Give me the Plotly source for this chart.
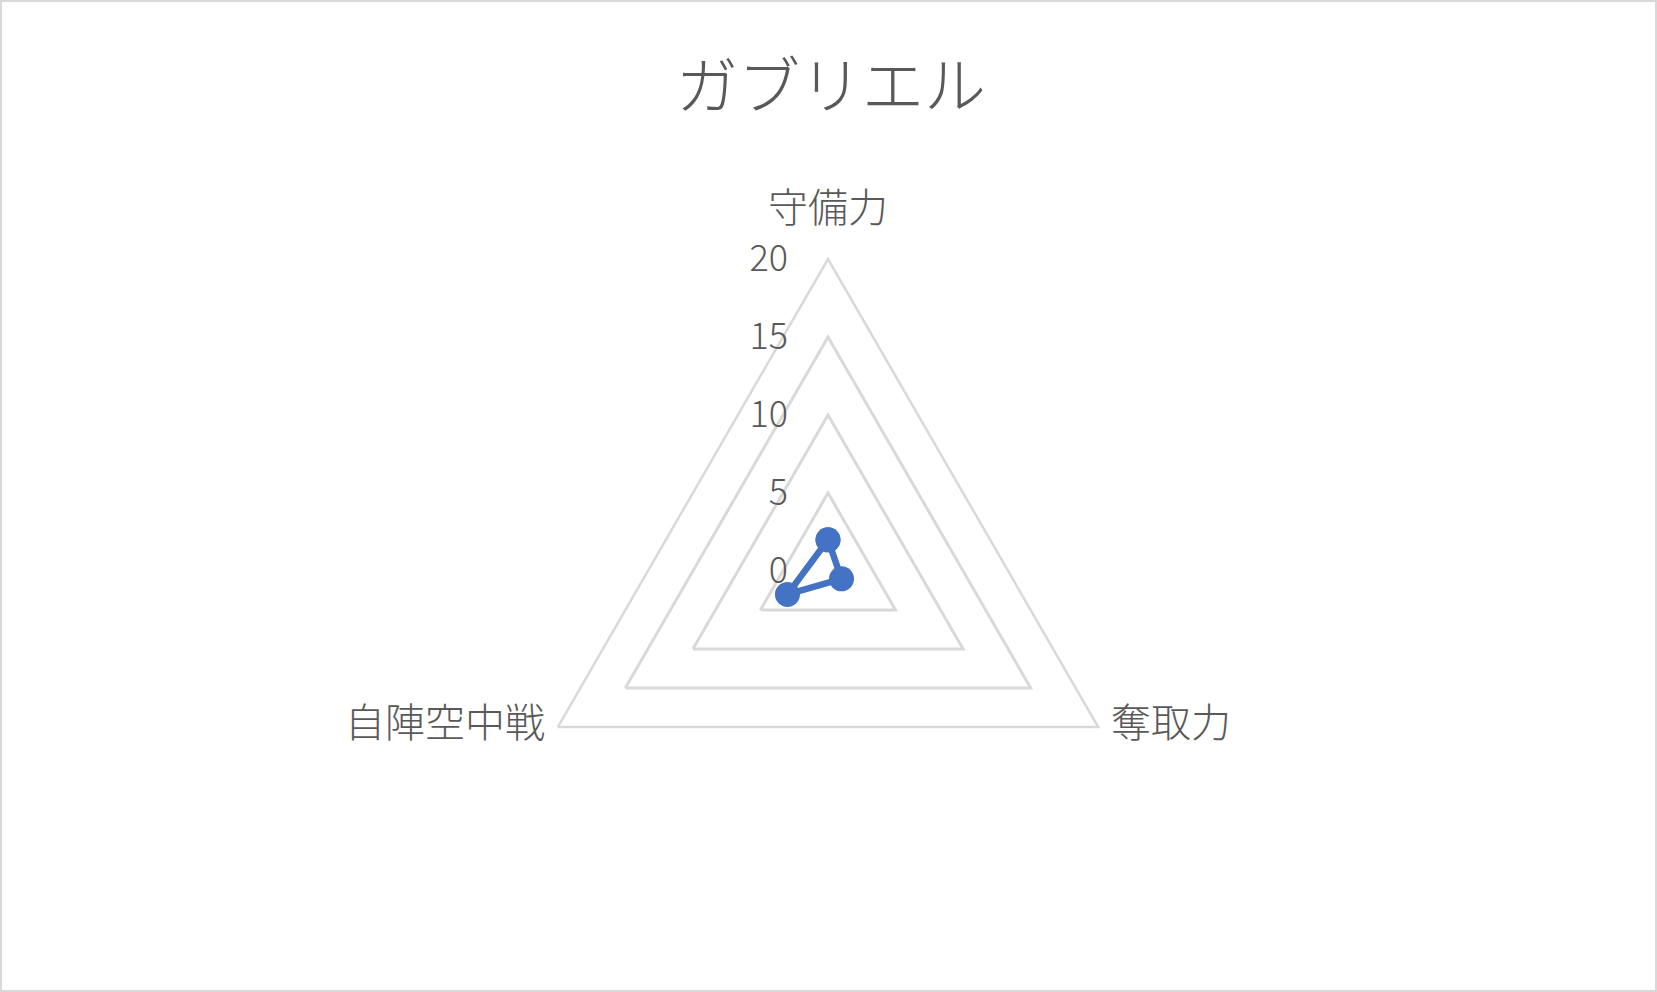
import plotly.graph_objects as go

categories = ["守備力", "奪取力", "自陣空中戦"]
values = [2, 1, 3]
series_name = "ガブリエル"
tick_vals = [0, 5, 10, 15, 20]

W, H = 1657, 992
cx, cy, R = 828, 571, 312

font_family = "Noto Sans CJK JP, Noto Sans, sans-serif"
grey = "#595959"
grid = "#d9d9d9"
blue = "#4472C4"

fig = go.Figure()
fig.add_trace(go.Scatterpolar(
    r=values + [values[0]],
    theta=categories + [categories[0]],
    mode="lines+markers",
    line=dict(color=blue, width=6.5),
    marker=dict(color=blue, size=25),
    name=series_name,
    showlegend=False,
))

# category labels placed at the outer ring (axis maximum)
fig.add_trace(go.Scatterpolar(
    r=[tick_vals[-1]] * len(categories),
    theta=categories,
    mode="markers+text",
    text=categories,
    textposition=["top center", "middle right", "middle left"],
    textfont=dict(family=font_family, size=40, color=grey, weight=300),
    marker=dict(size=[42, 19, 19], opacity=0),
    cliponaxis=False,
    hoverinfo="skip",
    showlegend=False,
))

fig.update_layout(
    width=W, height=H,
    margin=dict(l=0, r=0, t=0, b=0),
    paper_bgcolor="white",
    plot_bgcolor="white",
    title=dict(text=series_name, x=831 / W, xanchor="center", y=1 - 87 / H, yanchor="middle",
               font=dict(family=font_family, size=62, color=grey, weight=300)),
    polar=dict(
        domain=dict(x=[(cx - R) / W, (cx + R) / W], y=[1 - (cy + R) / H, 1 - (cy - R) / H]),
        bgcolor="white",
        gridshape="linear",
        radialaxis=dict(
            range=[0, 20], tickvals=tick_vals, angle=90, showline=False,
            gridcolor=grid, gridwidth=2.5,
            ticks="outside", ticklen=27, tickcolor="rgba(0,0,0,0)",
            side="counterclockwise", tickangle=90,
            tickfont=dict(family=font_family, size=36, color=grey, weight=300),
        ),
        angularaxis=dict(
            rotation=90, direction="clockwise", showgrid=False,
            showline=True, linecolor=grid, linewidth=2.5,
            showticklabels=False, ticks="",
        ),
    ),
    shapes=[dict(type="rect", xref="paper", yref="paper", x0=0.0006, y0=0.001, x1=0.9994, y1=0.999,
                 line=dict(color=grid, width=2), fillcolor="rgba(0,0,0,0)", layer="below")],
)

fig.write_html("out.html", config={"displayModeBar": False},
               post_script="document.body.style.margin='0';")
